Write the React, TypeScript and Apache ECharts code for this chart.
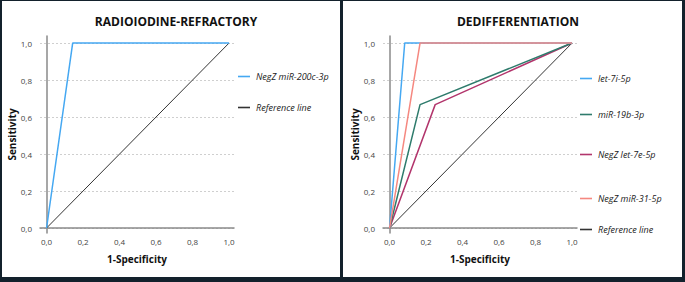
import React, { useEffect, useRef } from "react";
import * as echarts from "echarts";

// Left panel: Radioiodine-refractory
const raiFpr = [0, 0.143, 1];
const raiTpr = [0, 1, 1];
const refFpr = [0, 1];
const refTpr = [0, 1];

// Right panel: Dedifferentiation
const let7iFpr = [0, 0.083, 1];
const let7iTpr = [0, 1, 1];
const mir19bFpr = [0, 0.167, 1];
const mir19bTpr = [0, 0.667, 1];
const let7eFpr = [0, 0.25, 1];
const let7eTpr = [0, 0.667, 1];
const mir31Fpr = [0, 0.167, 1];
const mir31Tpr = [0, 1, 1];

const tickValues = [0, 0.2, 0.4, 0.6, 0.8, 1.0];

const leftTitle = "RADIOIODINE-REFRACTORY";
const rightTitle = "DEDIFFERENTIATION";
const xName = "1-Specificity";
const yName = "Sensitivity";

const pairs = (xs: number[], ys: number[]) => xs.map((x, i) => [x, ys[i]]);
const fmt = (v: number) => v.toFixed(1).replace(".", ",");

export default function App() {
  const ref = useRef<HTMLDivElement>(null);
  useEffect(() => {
    if (!ref.current) return;
    const chart = echarts.init(ref.current, null, { renderer: "svg" });
    const font = "'Open Sans', 'Noto Sans', sans-serif";
    const mkX = (gi: number) => ({
      type: "value",
      gridIndex: gi,
      min: -0.036,
      max: 1.027,
      name: xName,
      nameLocation: "middle",
      nameGap: 21,
      nameTextStyle: { fontFamily: font, fontWeight: "bold", fontSize: 10, color: "#111" },
      axisLine: { show: true, lineStyle: { color: "#8a8a8a", width: 1.5 } },
      axisTick: { show: false, customValues: tickValues },
      axisLabel: { customValues: tickValues, formatter: fmt, fontFamily: font, fontSize: 8, color: "#444", margin: 4 },
      splitLine: { show: false },
    });
    const mkY = (gi: number) => ({
      type: "value",
      gridIndex: gi,
      min: -0.027,
      max: 1.038,
      name: yName,
      nameLocation: "middle",
      nameRotate: 90,
      nameGap: 22,
      nameTextStyle: { fontFamily: font, fontWeight: "bold", fontSize: 10, color: "#111" },
      axisLine: { show: true, lineStyle: { color: "#8a8a8a", width: 1.5 } },
      axisTick: { show: false, customValues: tickValues },
      axisLabel: { customValues: tickValues, formatter: fmt, fontFamily: font, fontSize: 8, color: "#444", margin: 8 },
      splitLine: { show: true, lineStyle: { color: "#cfcfcf", type: [2, 2], width: 1 } },
    });
    const line = (name: string, gi: number, xs: number[], ys: number[], color: string, width = 1.5) => ({
      type: "line",
      name,
      xAxisIndex: gi,
      yAxisIndex: gi,
      data: pairs(xs, ys),
      symbol: "none",
      lineStyle: { color, width },
      itemStyle: { color },
    });
    const leg = (name: string, left: number, top: number) => ({
      data: [name],
      left,
      top,
      orient: "vertical",
      icon: "rect",
      itemWidth: 12,
      itemHeight: 1.6,
      itemGap: 0,
      selectedMode: false,
      textStyle: { fontFamily: font, fontStyle: "italic", fontSize: 9, color: "#222", padding: [0, 0, 0, 1] },
      padding: 0,
    });
    const cBlue = "#45a8f2";
    const cTeal = "#2e7b6c";
    const cCrimson = "#b2356c";
    const cSalmon = "#f58880";
    const cRef = "#333333";
    chart.setOption({
      animation: false,
      backgroundColor: "transparent",
      graphic: [
        { type: "rect", z: -10, shape: { x: 2, y: 1, width: 338, height: 276 }, style: { fill: "#ffffff" } },
        { type: "rect", z: -10, shape: { x: 343, y: 1, width: 339, height: 276 }, style: { fill: "#ffffff" } },
      ],
      title: [
        { text: leftTitle, left: 171, top: 10, textAlign: "center", textStyle: { fontFamily: font, fontWeight: "bold", fontSize: 12, color: "#111" } },
        { text: rightTitle, left: 513, top: 10, textAlign: "center", textStyle: { fontFamily: font, fontWeight: "bold", fontSize: 12, color: "#111" } },
      ],
      grid: [
        { left: 40, top: 36, width: 194, height: 197 },
        { left: 383, top: 36, width: 194, height: 197 },
      ],
      xAxis: [mkX(0), mkX(1)],
      yAxis: [mkY(0), mkY(1)],
      legend: [
        leg("NegZ miR-200c-3p", 238, 72),
        leg("Reference line", 238, 103),
        leg("let-7i-5p", 580, 74),
        leg("miR-19b-3p", 580, 110),
        leg("NegZ let-7e-5p", 580, 150),
        leg("NegZ miR-31-5p", 580, 194),
        leg("Reference line ", 580, 225),
      ],
      series: [
        line("Reference line", 0, refFpr, refTpr, cRef, 1),
        line("NegZ miR-200c-3p", 0, raiFpr, raiTpr, cBlue),
        line("Reference line ", 1, refFpr, refTpr, cRef, 1),
        line("NegZ let-7e-5p", 1, let7eFpr, let7eTpr, cCrimson),
        line("miR-19b-3p", 1, mir19bFpr, mir19bTpr, cTeal),
        line("let-7i-5p", 1, let7iFpr, let7iTpr, cBlue),
        line("NegZ miR-31-5p", 1, mir31Fpr, mir31Tpr, cSalmon),
      ],
    });
    return () => chart.dispose();
  }, []);
  return (
    <div
      style={{ position: "absolute", left: 0, top: 0, width: 685, height: 282, background: "#13212c" }}
    >
      <div ref={ref} style={{ width: 685, height: 282 }} />
    </div>
  );
}
